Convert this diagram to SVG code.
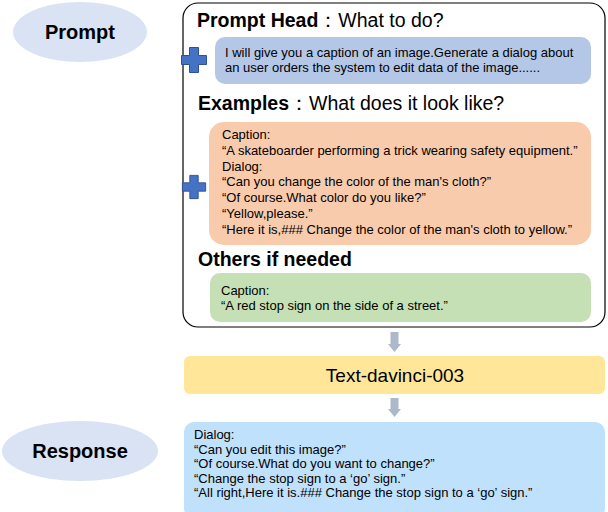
<svg xmlns="http://www.w3.org/2000/svg" width="608" height="512" viewBox="0 0 608 512">
<style>
text{font-family:"Liberation Sans",Arial,sans-serif;fill:#000}
.lbl{font-weight:bold;font-size:20px;text-anchor:middle}
.hd{font-size:19.5px}
.hb{font-weight:bold}
.t{font-size:13px}
.ell{fill:#dae3f3}
.plus{fill:#4472c4;stroke:#2f528f;stroke-width:1}
.arr{fill:#adb9ca}
</style>
<defs>
<path id="plus" d="M-4.5,-12.5 H4.5 V-4.5 H12.5 V4.5 H4.5 V12.5 H-4.5 V4.5 H-12.5 V-4.5 H-4.5 Z"/>
</defs>
<g id="prompt-label">
<ellipse class="ell" cx="80" cy="32" rx="67" ry="30"/>
<text class="lbl" x="80" y="39">Prompt</text>
</g>
<g id="response-label">
<ellipse class="ell" cx="80" cy="451" rx="78" ry="30"/>
<text class="lbl" x="80" y="458">Response</text>
</g>
<g id="prompt-box">
<rect x="183" y="3" width="422" height="324" rx="15" fill="#fff" stroke="#000" stroke-width="1.2"/>
<text class="hd" x="197" y="27"><tspan class="hb">Prompt Head</tspan>：What to do?</text>
<text class="hd" x="198" y="110"><tspan class="hb">Examples</tspan>：What does it look like?</text>
<text class="hd hb" x="198" y="266">Others if needed</text>
</g>
<g id="head-content">
<rect x="215" y="37" width="376" height="47" rx="10" fill="#b4c7e7"/>
<text class="t" x="225" y="57">I will give you a caption of an image.Generate a dialog about</text>
<text class="t" x="225" y="72">an user orders the system to edit data of the image......</text>
</g>
<g id="examples-content">
<rect x="209" y="122" width="382" height="123" rx="15" fill="#f8cbad"/>
<text class="t" x="222" y="139">Caption:</text>
<text class="t" x="222" y="155">“A skateboarder performing a trick wearing safety equipment.”</text>
<text class="t" x="222" y="171">Dialog:</text>
<text class="t" x="222" y="186">“Can you change the color of the man's cloth?”</text>
<text class="t" x="222" y="202">“Of course.What color do you like?”</text>
<text class="t" x="222" y="218">“Yellow,please.”</text>
<text class="t" x="222" y="234">“Here it is,### Change the color of the man's cloth to yellow.”</text>
</g>
<g id="others-content">
<rect x="210" y="273" width="381" height="49" rx="10" fill="#c5e0b4"/>
<text class="t" x="221" y="295">Caption:</text>
<text class="t" x="221" y="310">“A red stop sign on the side of a street.”</text>
</g>
<g id="plus-1"><use href="#plus" class="plus" transform="translate(194,60)"/></g>
<g id="plus-2"><use href="#plus" class="plus" transform="translate(194,187) scale(0.93)"/></g>
<g id="model">
<rect x="184" y="356" width="421" height="38" rx="6" fill="#ffe699"/>
<text x="395" y="382" font-size="19" text-anchor="middle">Text-davinci-003</text>
</g>
<g id="response-box">
<rect x="184" y="422" width="421" height="96" rx="10" fill="#bfe1fb"/>
<text class="t" x="194" y="439">Dialog:</text>
<text class="t" x="194" y="454">“Can you edit this image?”</text>
<text class="t" x="194" y="468">“Of course.What do you want to change?”</text>
<text class="t" x="194" y="483">“Change the stop sign to a ‘go’ sign.”</text>
<text class="t" x="194" y="497">“All right,Here it is.### Change the stop sign to a ‘go’ sign.”</text>
</g>
<g id="connectors">
<polygon class="arr" points="390.5,332 398.5,332 398.5,344 401,344 394.5,352 388,344 390.5,344"/>
<polygon class="arr" points="390.5,398 398.5,398 398.5,409 401,409 394.5,417 388,409 390.5,409"/>
</g>
</svg>
